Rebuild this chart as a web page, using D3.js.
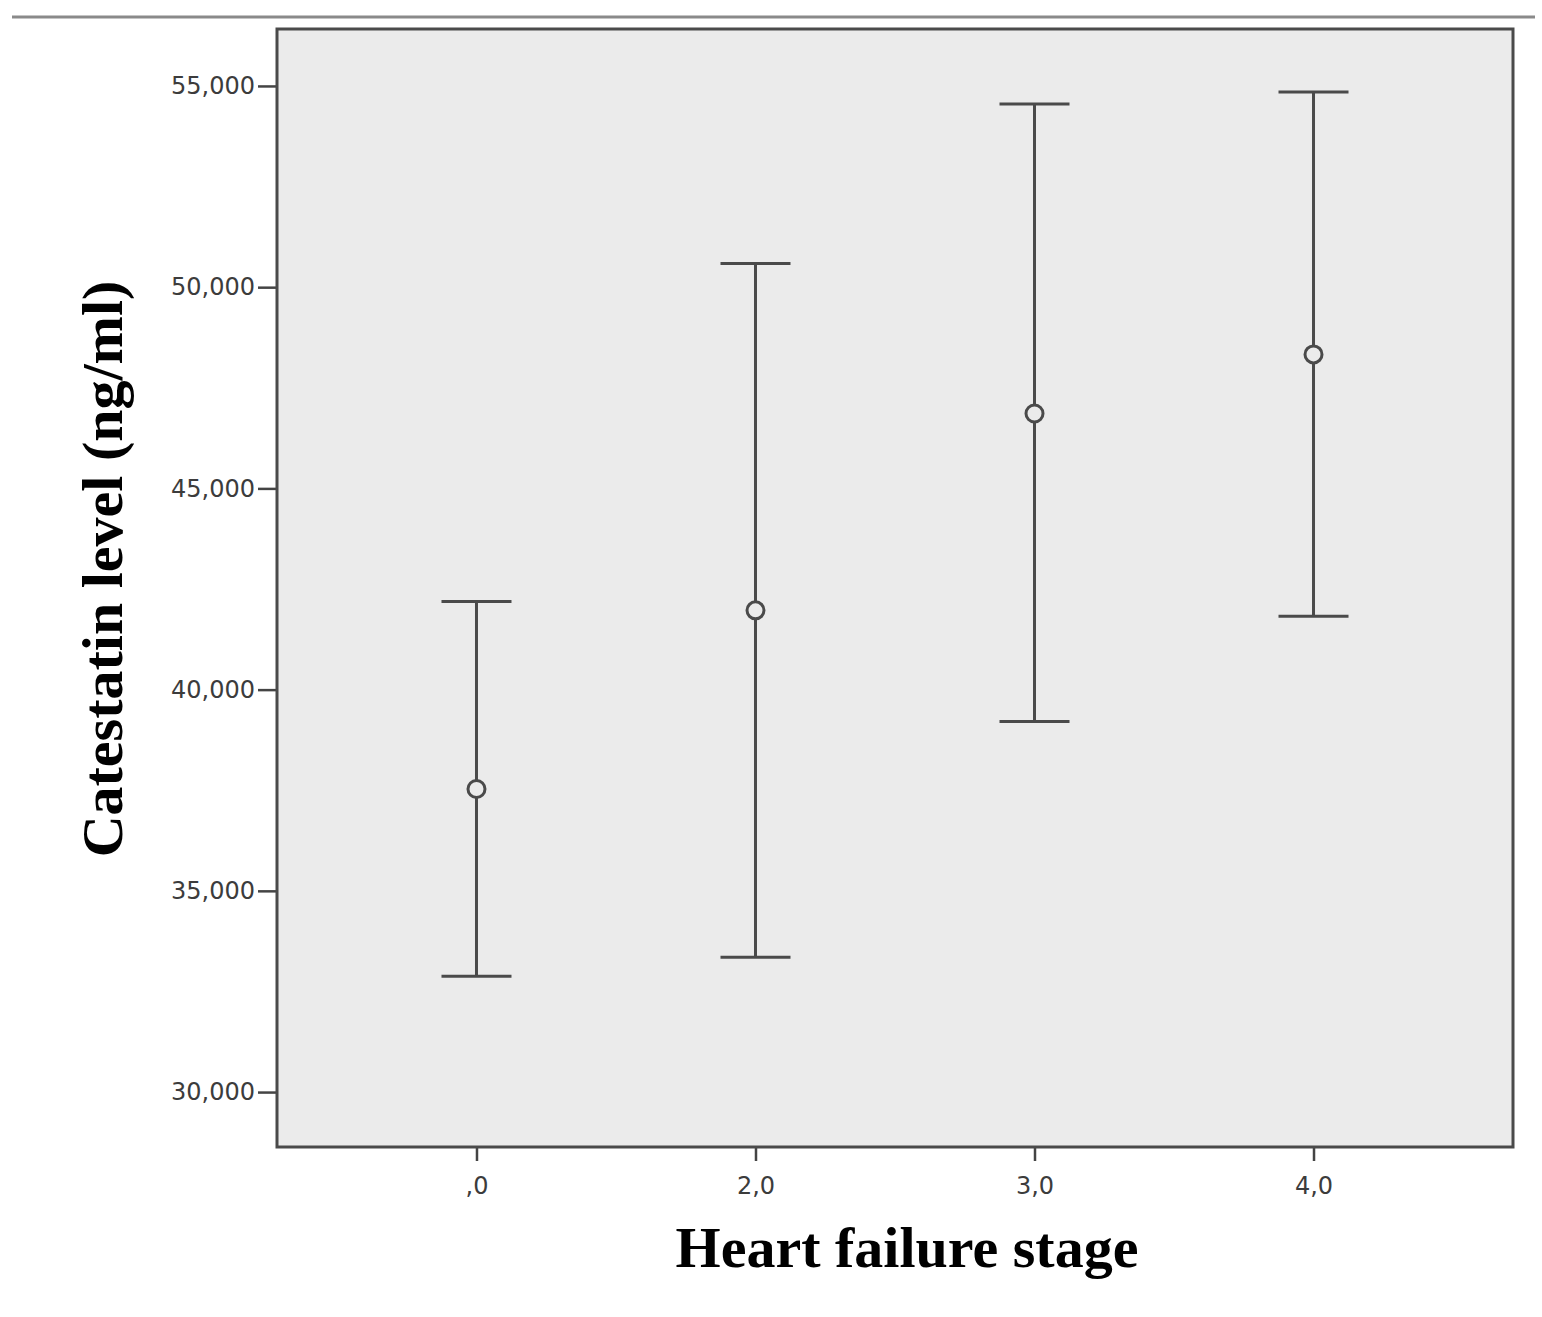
<!DOCTYPE html>
<html>
<head>
<meta charset="utf-8">
<script src="https://cdn.jsdelivr.net/npm/d3@7"></script>
<style>
  html, body { margin: 0; padding: 0; background: #fff; }
  svg { display: block; }
</style>
</head>
<body>
<svg id="chart" width="1542" height="1317"></svg>
<script>
const categories = [",0", "2,0", "3,0", "4,0"];
const means = [37530, 41970, 46860, 48330];
const lowerCI = [32880, 33350, 39210, 41820];
const upperCI = [42190, 50590, 54550, 54850];
const yTicks = [30000, 35000, 40000, 45000, 50000, 55000];
const xTitle = "Heart failure stage";
const yTitle = "Catestatin level (ng/ml)";

const svg = d3.select("#chart");
const L = 277, R = 1513, T = 29, B = 1147;

const x = d3.scalePoint().domain(categories).range([L, R]).padding(0.715);
const y = d3.scaleLinear().domain([28635, 56415]).range([B, T]);

// top rule
svg.append("line").attr("x1", 12).attr("x2", 1535).attr("y1", 17).attr("y2", 17)
  .attr("stroke", "#8a8a8a").attr("stroke-width", 3);

// plot background
svg.append("rect").attr("x", L).attr("y", T).attr("width", R - L).attr("height", B - T)
  .attr("fill", "#ebebeb");

const fmt = d => d3.format(",")(d);
const tickFont = "DejaVu Sans, Verdana, sans-serif";

// y axis
const yAxis = svg.append("g").attr("transform", `translate(${L},0)`)
  .call(d3.axisLeft(y).tickValues(yTicks).tickSize(19).tickPadding(3).tickFormat(fmt));
yAxis.select(".domain").remove();
yAxis.selectAll(".tick line").attr("stroke", "#444").attr("stroke-width", 2.5);
yAxis.selectAll(".tick text").attr("fill", "#3c3c3c").attr("font-family", tickFont)
  .attr("font-size", 24);

// x axis
const xAxis = svg.append("g").attr("transform", `translate(0,${B})`)
  .call(d3.axisBottom(x).tickSize(14).tickPadding(16));
xAxis.select(".domain").remove();
xAxis.selectAll(".tick line").attr("stroke", "#444").attr("stroke-width", 2.5);
xAxis.selectAll(".tick text").attr("fill", "#3c3c3c").attr("font-family", tickFont)
  .attr("font-size", 24);

// frame
svg.append("rect").attr("x", L).attr("y", T).attr("width", R - L).attr("height", B - T)
  .attr("fill", "none").attr("stroke", "#4a4a4a").attr("stroke-width", 3);

// error bars
const g = svg.append("g");
const capHalf = 35;
categories.forEach((c, i) => {
  const cx = x(c);
  g.append("line").attr("x1", cx).attr("x2", cx).attr("y1", y(lowerCI[i])).attr("y2", y(upperCI[i]))
    .attr("stroke", "#4a4a4a").attr("stroke-width", 3);
  [lowerCI[i], upperCI[i]].forEach(v => {
    g.append("line").attr("x1", cx - capHalf).attr("x2", cx + capHalf).attr("y1", y(v)).attr("y2", y(v))
      .attr("stroke", "#4a4a4a").attr("stroke-width", 3);
  });
  g.append("circle").attr("cx", cx).attr("cy", y(means[i])).attr("r", 8.5)
    .attr("fill", "#ebebeb").attr("stroke", "#4a4a4a").attr("stroke-width", 3);
});

// titles
svg.append("text").attr("x", 907).attr("y", 1267).attr("text-anchor", "middle")
  .attr("font-family", "Liberation Serif, Times New Roman, serif").attr("font-weight", "bold")
  .attr("font-size", 58).attr("fill", "#000").text(xTitle);

svg.append("text").attr("transform", "translate(122,569) rotate(-90)").attr("text-anchor", "middle")
  .attr("font-family", "Liberation Serif, Times New Roman, serif").attr("font-weight", "bold")
  .attr("font-size", 58).attr("fill", "#000").text(yTitle);
</script>
</body>
</html>
